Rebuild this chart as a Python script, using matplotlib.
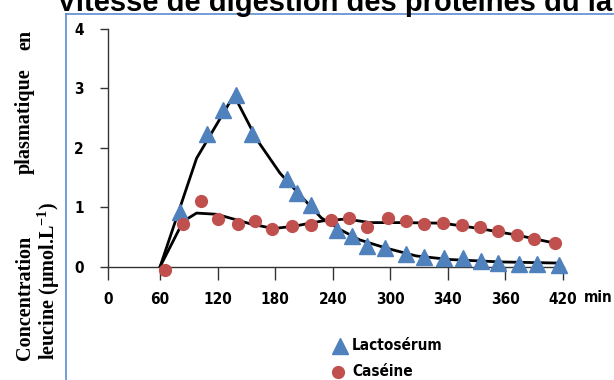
import numpy as np
from matplotlib import pyplot as plt
from matplotlib.lines import Line2D

# x positions in axis units (60 units between ticks), y in umol/L
lacto_t = [80.7, 108.5, 125.2, 138.8, 155.4, 191.9, 203.1, 216.9, 244.0, 260.2, 275.7,
           294.3, 316.5, 334.6, 356.0, 375.8, 394.3, 412.3, 434.2, 453.3, 475.8]
lacto_y = [0.92, 2.23, 2.63, 2.89, 2.23, 1.48, 1.24, 1.04, 0.62, 0.51, 0.34,
           0.32, 0.22, 0.17, 0.15, 0.15, 0.10, 0.07, 0.04, 0.04, 0.03]
caseine_t = [65.4, 84.2, 102.6, 120.6, 141.5, 158.9, 176.9, 197.7, 217.5, 237.8, 256.5,
             275.5, 297.4, 316.5, 335.2, 354.4, 374.2, 393.2, 411.7, 431.5, 449.8, 471.4]
caseine_y = [-0.06, 0.72, 1.10, 0.80, 0.72, 0.77, 0.63, 0.69, 0.70, 0.79, 0.82,
             0.67, 0.82, 0.77, 0.72, 0.74, 0.70, 0.67, 0.60, 0.53, 0.46, 0.39]

# fitted curves (black lines)
lacto_fit_t = [60, 98, 137, 161, 185, 206, 228, 248, 268, 296, 327, 362, 414, 477]
lacto_fit_y = [0, 1.82, 2.88, 2.13, 1.57, 1.20, 0.82, 0.62, 0.45, 0.31, 0.18, 0.12, 0.08, 0.06]
caseine_fit_t = [60, 84, 98, 119, 154, 178, 200, 216, 230, 254, 279, 313, 355, 393, 432, 470]
caseine_fit_y = [0, 0.76, 0.90, 0.88, 0.72, 0.64, 0.68, 0.73, 0.77, 0.80, 0.74, 0.74, 0.73,
                 0.64, 0.53, 0.40]

tick_pos = [6, 60, 120, 180, 240, 300, 360, 420, 480]
tick_lab = ['0', '60', '120', '180', '240', '300', '340', '360', '420']

plt.rcParams['mathtext.fontset'] = 'custom'
plt.rcParams['mathtext.rm'] = 'Liberation Serif:bold'
plt.rcParams['mathtext.bf'] = 'Liberation Serif:bold'

W, H = 614, 380
fig = plt.figure(figsize=(W / 100, H / 100), dpi=100)
lab_font = dict(family='DejaVu Sans', stretch='condensed', weight='bold', size=11)

# blue frame (partial, top and left)
frame_col = '#5b8bd0'
fig.add_artist(Line2D([65.5 / W, 65.5 / W], [0, 1 - 13.5 / H], color=frame_col, lw=1.2))
fig.add_artist(Line2D([65.5 / W, 1], [1 - 13.5 / H, 1 - 13.5 / H], color=frame_col, lw=1.2))

fig.text(57 / W, 1 - 11 / H, 'Vitesse de digestion des protéines du lait',
         family='Liberation Sans', weight='bold', size=21, va='baseline', ha='left')

ax = fig.add_axes([108.3 / W, 1 - 275.6 / H, (564 - 108.3) / W, (275.6 - 28.5) / H])
ax.set_xlim(6, 481)
ax.set_ylim(-0.15, 4)

ax.plot(lacto_fit_t, lacto_fit_y, color='black', lw=2, zorder=2)
ax.plot(caseine_fit_t, caseine_fit_y, color='black', lw=2, zorder=2)
ax.plot(lacto_t, lacto_y, ls='none', marker='^', ms=11.5, color='#4f81bd', zorder=3, clip_on=False)
ax.plot(caseine_t, caseine_y, ls='none', marker='o', ms=8.5, color='#c0504d', zorder=3, clip_on=False)

for s in ['top', 'right']:
    ax.spines[s].set_visible(False)
ax.spines['bottom'].set_position(('data', 0))
ax.spines['left'].set_bounds(0, 4)
for s in ['bottom', 'left']:
    ax.spines[s].set_color('#333333')
    ax.spines[s].set_linewidth(1.0)

ax.set_xticks(tick_pos)
ax.set_xticklabels(tick_lab, **lab_font)
ax.set_yticks([0, 1, 2, 3, 4])
ax.set_yticklabels(['0', '1', '2', '3', '4'], **lab_font)
ax.tick_params(axis='x', direction='out', length=9.5, width=1, color='#333333', pad=9)
ax.tick_params(axis='y', direction='out', length=5.8, width=1, color='#333333', pad=12)

fig.text(598 / W, 1 - 298 / H, 'min', ha='center', va='center', **lab_font)

# y label, first line spread over full height
ylab = dict(family='Liberation Serif', weight='bold', size=14.5, rotation=90)
fig.text(25 / W, 1 - 360 / H, 'Concentration', ha='center', va='bottom', **ylab)
fig.text(25 / W, 1 - 121 / H, 'plasmatique', ha='center', va='center', **ylab)
fig.text(25 / W, 1 - 30 / H, 'en', ha='center', va='top', **ylab)
fig.text(49 / W, 1 - 360 / H, 'leucine (µmol.L$^{-1}$)', ha='center', va='bottom', **ylab)

# legend
fig.add_artist(Line2D([340 / W], [1 - 346 / H], ls='none', marker='^', ms=11.5, color='#4f81bd'))
fig.add_artist(Line2D([338 / W], [1 - 372 / H], ls='none', marker='o', ms=8.5, color='#c0504d'))
fig.text(352 / W, 1 - 346 / H, 'Lactosérum', ha='left', va='center', **lab_font)
fig.text(352 / W, 1 - 372 / H, 'Caséine', ha='left', va='center', **lab_font)

plt.savefig('out.png', dpi=100)
